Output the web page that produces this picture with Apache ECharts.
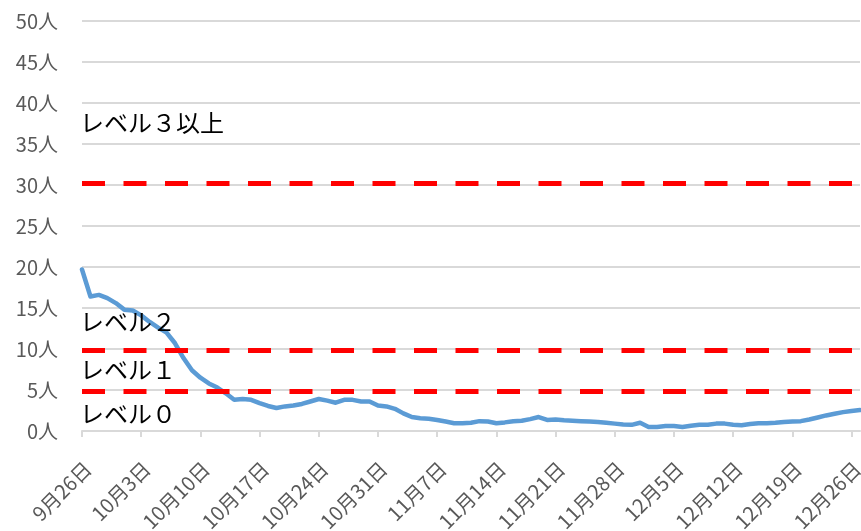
<!DOCTYPE html>
<html>
<head>
<meta charset="utf-8">
<script src="https://cdn.jsdelivr.net/npm/echarts@6/dist/echarts.min.js"></script>
<style>
html,body{margin:0;padding:0;background:#fff;}
#chart{width:861px;height:531px;}
</style>
</head>
<body>
<div id="chart"></div>
<script>
// ---- data ----
var dates = [
'9月26日','9月27日','9月28日','9月29日','9月30日',
'10月1日','10月2日','10月3日','10月4日','10月5日','10月6日','10月7日','10月8日','10月9日','10月10日',
'10月11日','10月12日','10月13日','10月14日','10月15日','10月16日','10月17日','10月18日','10月19日','10月20日',
'10月21日','10月22日','10月23日','10月24日','10月25日','10月26日','10月27日','10月28日','10月29日','10月30日','10月31日',
'11月1日','11月2日','11月3日','11月4日','11月5日','11月6日','11月7日','11月8日','11月9日','11月10日',
'11月11日','11月12日','11月13日','11月14日','11月15日','11月16日','11月17日','11月18日','11月19日','11月20日',
'11月21日','11月22日','11月23日','11月24日','11月25日','11月26日','11月27日','11月28日','11月29日','11月30日',
'12月1日','12月2日','12月3日','12月4日','12月5日','12月6日','12月7日','12月8日','12月9日','12月10日',
'12月11日','12月12日','12月13日','12月14日','12月15日','12月16日','12月17日','12月18日','12月19日','12月20日',
'12月21日','12月22日','12月23日','12月24日','12月25日','12月26日','12月27日'
];
var patients = [
19.7,16.4,16.6,16.2,15.6,14.8,14.7,14.1,13.3,12.6,
12.0,10.7,8.9,7.4,6.5,5.8,5.3,4.6,3.8,3.9,
3.8,3.4,3.05,2.8,3.0,3.1,3.3,3.6,3.9,3.7,
3.45,3.8,3.8,3.6,3.6,3.1,3.0,2.7,2.15,1.7,
1.55,1.5,1.35,1.15,0.95,0.95,1.0,1.2,1.15,0.95,
1.05,1.2,1.25,1.45,1.7,1.35,1.4,1.3,1.25,1.2,
1.15,1.1,1.0,0.9,0.8,0.75,1.0,0.5,0.5,0.6,
0.6,0.5,0.65,0.75,0.75,0.9,0.9,0.75,0.7,0.85,
0.95,0.95,1.0,1.1,1.15,1.2,1.4,1.65,1.9,2.1,
2.3,2.45,2.55
];
var thresholds = [30.2, 9.85, 4.9];
var yTickLabels = ['0人','5人','10人','15人','20人','25人','30人','35人','40人','45人','50人'];
var levelNames = ['レベル３以上','レベル２','レベル１','レベル０'];
var levelY = [37.6, 13.3, 7.45, 2.1];

var FONT = '"Noto Sans CJK JP", "Noto Sans", sans-serif';
var chart = echarts.init(document.getElementById('chart'), null, {renderer:'canvas'});
chart.setOption({
  animation: false,
  backgroundColor: '#ffffff',
  grid: {left: 82, right: 1, top: 21, bottom: 100, containLabel: false, outerBoundsMode: 'none'},
  xAxis: {
    type: 'category',
    data: dates,
    boundaryGap: false,
    axisLine: {show: true, lineStyle: {color: '#D9D9D9', width: 2}},
    axisTick: {show: true, interval: 6, length: 6, lineStyle: {color: '#D9D9D9', width: 2}},
    axisLabel: {
      interval: 6, rotate: 45, color: '#595959', fontSize: 20, fontFamily: FONT,
      margin: 40, padding: [0, -8, 0, 0]
    },
    splitLine: {show: false}
  },
  yAxis: {
    type: 'value', min: 0, max: 50, interval: 5,
    axisLine: {show: false}, axisTick: {show: false},
    axisLabel: {
      color: '#595959', fontSize: 20, fontFamily: FONT, margin: 24,
      formatter: function (v) { return yTickLabels[Math.round(v / 5)]; }
    },
    splitLine: {show: true, lineStyle: {color: '#D9D9D9', width: 2}}
  },
  series: [
    {
      name: '患者数', type: 'line', data: patients, showSymbol: false, symbol: 'none',
      z: 2,
      lineStyle: {color: '#5B9BD5', width: 4.5, cap: 'round', join: 'round'}
    },
    {
      name: 'レベル', type: 'line', data: [], z: 3,
      markLine: {
        silent: true, symbol: 'none', label: {show: false},
        lineStyle: {color: '#FF0000', width: 5, type: [23, 18.5], cap: 'butt'},
        data: thresholds.map(function (t) { return {yAxis: t}; })
      }
    }
  ]
});

var gx = chart.convertToPixel({xAxisIndex: 0}, 0);
chart.setOption({
  graphic: levelNames.map(function (name, i) {
    return {
      type: 'text', z: 10, silent: true,
      x: gx - 2, y: chart.convertToPixel({yAxisIndex: 0}, levelY[i]),
      style: {text: name, fill: '#000000', font: '24px ' + FONT, textVerticalAlign: 'middle', verticalAlign: 'middle'}
    };
  })
});
</script>
</body>
</html>
